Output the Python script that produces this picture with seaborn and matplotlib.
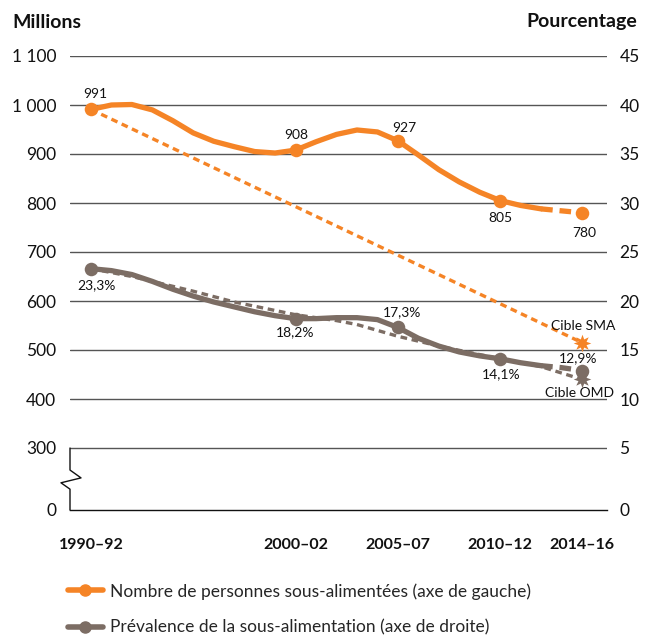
import numpy as np
import pandas as pd
import matplotlib
matplotlib.use("Agg")
import matplotlib.pyplot as plt
import matplotlib.transforms as mtransforms
from matplotlib.lines import Line2D
import seaborn as sns

# ---------------- data ----------------
years = list(range(1990, 2015))
undernourished = [991, 1000, 1001, 990, 968, 943, 926, 915, 905, 902,
                  908, 925, 940, 949, 945, 927, 898, 868, 843, 822,
                  805, 795, 788, 784, 780]
prevalence = [23.3, 23.1, 22.7, 22.0, 21.2, 20.5, 19.9, 19.4, 18.9, 18.5,
              18.2, 18.2, 18.3, 18.3, 18.1, 17.3, 16.2, 15.4, 14.8, 14.4,
              14.1, 13.7, 13.4, 13.2, 12.9]
projection_start = 2012

label_years = [1990, 2000, 2005, 2010, 2014]
label_millions = ["991", "908", "927", "805", "780"]
label_percent = ["23,3%", "18,2%", "17,3%", "14,1%", "12,9%"]

wfs_years = [1990, 2014]
wfs_target = [991, 515]
mdg_years = [1990, 1992, 1995, 1997, 2000, 2002, 2003, 2005, 2007, 2010, 2012, 2014]
mdg_path = [23.3, 22.5, 21.0, 19.9, 18.6, 18.0, 17.6, 16.4, 15.4, 14.1, 13.3, 12.0]

xtick_years = [1990, 2000, 2005, 2010, 2014]
xtick_labels = ["1990–92", "2000–02", "2005–07", "2010–12", "2014–16"]
left_ticks = [300, 400, 500, 600, 700, 800, 900, 1000, 1100]
left_labels = ["300", "400", "500", "600", "700", "800", "900", "1 000", "1 100"]
right_ticks = [5, 10, 15, 20, 25, 30, 35, 40, 45]

legend_labels = ["Nombre de personnes sous-alimentées (axe de gauche)",
                 "Prévalence de la sous-alimentation (axe de droite)"]

# ---------------- style ----------------
ORANGE = "#F58426"
GREY = "#7C6D64"
GRID = "#555555"
TXT = "#111111"

sns.set_theme(style="white")
plt.rcParams["font.family"] = ["Lato", "DejaVu Sans"]

df = pd.DataFrame({"year": years, "millions": undernourished, "pct": prevalence})
obs = df[df.year <= projection_start]
proj = df[df.year >= projection_start]
lab = df[df.year.isin(label_years)]

fig = plt.figure(figsize=(6.45, 6.39), dpi=100)
ax = fig.add_axes([70 / 645, 1 - 510 / 639, 537 / 645, (510 - 56) / 639])
ax2 = ax.twinx()

# broken axis: "0" is drawn 62 px below 300 (100 units = 49 px)
ZERO_POS = 300 - 62 / 49 * 100
ax.set_ylim(ZERO_POS, 1100)
ax2.set_ylim((ZERO_POS - 200) / 20, 45)
ax.set_xlim(1990 - 21 / 20.5, 1990 + 517 / 20.5)

# gridlines
for v in left_ticks:
    ax.axhline(v, color=GRID, lw=1.0, zorder=0)

# targets
sns.lineplot(x=wfs_years, y=wfs_target, ax=ax, color=ORANGE, lw=2.4,
             linestyle=(0, (2.0, 1.4)), zorder=2)
ax.scatter(wfs_years[-1:], wfs_target[-1:], marker=(8, 1, 0), s=160,
           color=ORANGE, zorder=4, linewidths=0)
sns.lineplot(x=mdg_years, y=mdg_path, ax=ax2, color=GREY, lw=2.4,
             linestyle=(0, (2.0, 1.4)), zorder=2)
ax2.scatter(mdg_years[-1:], mdg_path[-1:], marker=(8, 1, 0), s=160,
            color=GREY, zorder=4, linewidths=0)

# main series
sns.lineplot(data=obs, x="year", y="millions", ax=ax, color=ORANGE, lw=3.8, zorder=3)
sns.lineplot(data=proj, x="year", y="millions", ax=ax, color=ORANGE, lw=3.8,
             linestyle=(0, (2.2, 1.3)), zorder=3)
sns.scatterplot(data=lab, x="year", y="millions", ax=ax, color=ORANGE, s=95,
                linewidth=0, zorder=5)
sns.lineplot(data=obs, x="year", y="pct", ax=ax2, color=GREY, lw=3.8, zorder=3)
sns.lineplot(data=proj, x="year", y="pct", ax=ax2, color=GREY, lw=3.8,
             linestyle=(0, (2.2, 1.3)), zorder=3)
sns.scatterplot(data=lab, x="year", y="pct", ax=ax2, color=GREY, s=95,
                linewidth=0, zorder=5)

# data labels
LS = 10
m_off = [(4, 15), (1, 15), (6, 13), (0, -17), (2, -20)]
for (yr, v, t, o) in zip(label_years, lab["millions"], label_millions, m_off):
    ax.annotate(t, (yr, v), xytext=o, textcoords="offset pixels",
                ha="center", va="center", fontsize=LS, color=TXT)
p_off = [(6, -16), (0, -14), (4, 15), (1, -15), (-4, 12)]
for (yr, v, t, o) in zip(label_years, lab["pct"], label_percent, p_off):
    ax2.annotate(t, (yr, v), xytext=o, textcoords="offset pixels",
                 ha="center", va="center", fontsize=LS, color=TXT)
ax.annotate("Cible SMA", (wfs_years[-1], wfs_target[-1]), xytext=(1, 17),
            textcoords="offset pixels", ha="center", va="center",
            fontsize=LS, color=TXT)
ax2.annotate("Cible OMD", (mdg_years[-1], mdg_path[-1]), xytext=(-3, -14),
             textcoords="offset pixels", ha="center", va="center",
             fontsize=LS, color=TXT)

# axes / ticks
ax.set_yticks([ZERO_POS] + left_ticks)
ax.set_yticklabels(["0"] + left_labels, fontsize=12.5, color=TXT)
ax2.set_yticks([(ZERO_POS - 200) / 20] + right_ticks)
ax2.set_yticklabels(["0"] + [str(v) for v in right_ticks], fontsize=12.5, color=TXT)
ax.tick_params(axis="y", length=0, pad=10)
ax2.tick_params(axis="y", length=0, pad=9)
ax.set_xticks(xtick_years)
ax.set_xticklabels(xtick_labels, fontsize=11.5, fontweight="bold", color=TXT)
ax.tick_params(axis="x", length=5, width=1.8, direction="out", pad=15, color=TXT)
ax.set_xlabel("")
ax.set_ylabel("")
ax2.set_ylabel("")
for sp in ["left", "right", "top"]:
    ax.spines[sp].set_visible(False)
for sp in ax2.spines.values():
    sp.set_visible(False)
ax.spines["bottom"].set_color(TXT)
ax.spines["bottom"].set_linewidth(1.0)

# broken left axis with zigzag
trans = mtransforms.blended_transform_factory(ax.transAxes, ax.transData)
ax.plot([0, 0, 0.0205, -0.0168, 0, 0], [300, 255, 239, 229, 216, ZERO_POS],
        transform=trans, color=TXT, lw=1.0, clip_on=False, zorder=6)

fig.text(12 / 645, 1 - 22 / 639, "Millions", fontsize=14, fontweight="bold",
         ha="left", va="center", color=TXT)
fig.text(637 / 645, 1 - 22 / 639, "Pourcentage", fontsize=14, fontweight="bold",
         ha="right", va="center", color=TXT)

handles = [Line2D([], [], color=ORANGE, lw=4, marker="o", markersize=8),
           Line2D([], [], color=GREY, lw=4, marker="o", markersize=8)]
fig.legend(handles, legend_labels, loc="upper left",
           bbox_to_anchor=(68 / 645, 1 - 583 / 639), frameon=False,
           fontsize=12.5, handlelength=2.0, handletextpad=0.4,
           labelspacing=1.15, borderpad=0, borderaxespad=0)

fig.savefig("out.png", dpi=100)
